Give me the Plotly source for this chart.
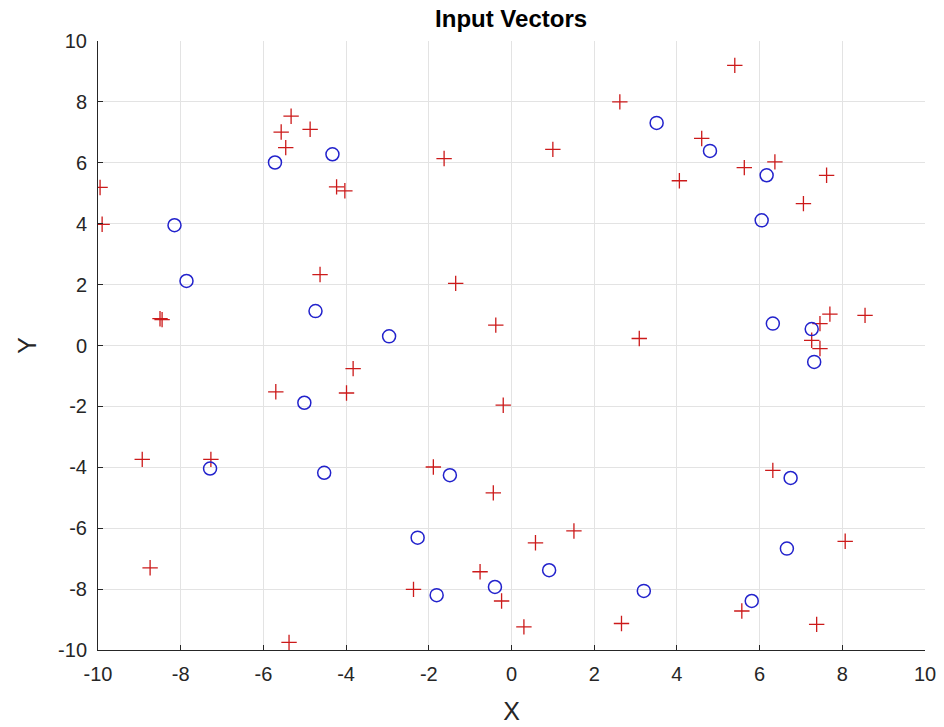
import plotly.graph_objects as go

# Circle-marked vectors (blue "o")
circle_x = [-8.15, -7.86, -5.72, -4.33, -4.74, 3.51, -2.96, 4.80, 6.17, 6.05, 6.32, 7.26, 7.32,
            6.75, 6.66, 5.81, 3.20, -1.49, -2.27, 0.91, -0.40, -1.81, -5.01, -7.29, -4.53]
circle_y = [3.95, 2.12, 6.01, 6.28, 1.13, 7.31, 0.30, 6.39, 5.59, 4.11, 0.72, 0.54, -0.54,
            -4.35, -6.67, -8.39, -8.06, -4.26, -6.31, -7.38, -7.93, -8.20, -1.88, -4.04, -4.18]

# Plus-marked vectors (red "+")
plus_x = [-9.95, -9.90, -8.50, -8.45, -5.33, -5.57, -5.46, -4.87, -4.23, -4.03, -4.63,
          2.62, -1.63, 1.00, -1.35, -0.38, 3.09, 5.40, 4.60, 5.63, 6.37, 4.06, 7.62, 7.06,
          8.55, 7.70, 7.46, 7.26, 7.46, 6.32, 8.07, 5.57, 7.38,
          -0.20, -1.89, -0.44, 1.51, 0.58, -0.76, -0.24, -2.37, 0.30, 2.66,
          -3.83, -5.70, -3.99, -8.93, -7.27, -8.74, -5.38]
plus_y = [5.19, 3.98, 0.88, 0.85, 7.53, 7.01, 6.50, 7.10, 5.21, 5.08, 2.33,
          8.00, 6.14, 6.44, 2.04, 0.67, 0.23, 9.20, 6.80, 5.84, 6.03, 5.41, 5.59, 4.66,
          0.99, 1.03, 0.72, 0.17, -0.10, -4.10, -6.43, -8.72, -9.16,
          -1.96, -3.99, -4.84, -6.09, -6.48, -7.43, -8.39, -8.01, -9.24, -9.13,
          -0.76, -1.52, -1.56, -3.74, -3.74, -7.30, -9.75]

tick_vals = [-10, -8, -6, -4, -2, 0, 2, 4, 6, 8, 10]
tick_text = [str(v) for v in tick_vals]

FONT = "Liberation Sans, Arial, sans-serif"

fig = go.Figure()
fig.add_trace(go.Scatter(
    x=plus_x, y=plus_y, mode="markers",
    marker=dict(symbol="cross-thin", size=11, color="#cc1a1a",
                line=dict(color="#cc1a1a", width=1.3)),
    showlegend=False))
fig.add_trace(go.Scatter(
    x=circle_x, y=circle_y, mode="markers",
    marker=dict(symbol="circle-open", size=13, color="#2222cc",
                line=dict(color="#2222cc", width=1.5)),
    showlegend=False))

axis_common = dict(
    range=[-10, 10], tickvals=tick_vals, ticktext=tick_text,
    showgrid=True, gridcolor="#e3e3e3", gridwidth=1,
    zeroline=False, showline=True, linecolor="#262626", linewidth=1,
    ticks="inside", ticklen=5, tickcolor="#262626", mirror=False,
    automargin=False,
    tickfont=dict(family=FONT, size=20, color="#262626"),
)

fig.update_layout(
    width=944, height=727,
    margin=dict(l=98, r=19, t=41, b=77),
    paper_bgcolor="white", plot_bgcolor="white",
    title=dict(text="<b>Input Vectors</b>", x=0.5414, xanchor="center", y=0.975, yanchor="middle",
               font=dict(family=FONT, size=24, color="black")),
    xaxis=dict(**axis_common, ticklabelstandoff=6,
               title=dict(text="X", standoff=18,
                          font=dict(family=FONT, size=25, color="#262626"))),
    yaxis=dict(**axis_common, ticklabelstandoff=6,
               title=dict(text="Y", standoff=14,
                          font=dict(family=FONT, size=25, color="#262626"))),
)

fig.write_html("out.html")
